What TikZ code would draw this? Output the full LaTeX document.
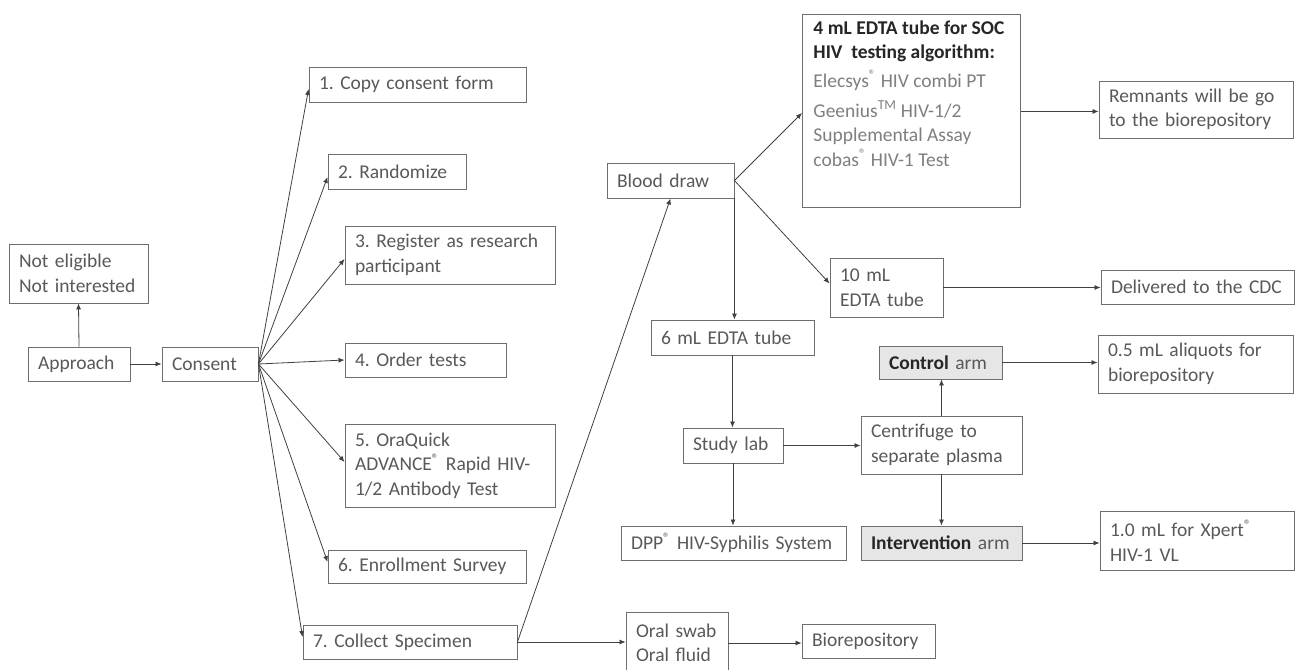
\documentclass[tikz,border=0pt]{standalone}
\usepackage{fontspec}
\setmainfont{Carlito}
\usetikzlibrary{arrows.meta}
\definecolor{txt}{HTML}{595959}
\definecolor{ltx}{HTML}{7F7F7F}
\definecolor{dk}{HTML}{262626}
\definecolor{brd}{HTML}{6E6E6E}
\definecolor{arr}{HTML}{404040}
\definecolor{armfill}{HTML}{E6E6E6}
\newcommand\mybox[7][]{%
  \pgfmathsetlengthmacro\bxw{(#5-#3)*1pt}%
  \pgfmathsetlengthmacro\bxh{(#6-#4)*1pt}%
  \pgfmathsetlengthmacro\bxt{(#5-#3-20)*1pt}%
  \node[box,minimum width=\bxw,minimum height=\bxh,text width=\bxt,#1] (#2) at ({(#3+#5)/2},{(#4+#6)/2}) {#7};}
\tikzset{
  box/.style={draw=brd,line width=0.9pt,text=txt,font=\fontsize{19.5pt}{24.5pt}\selectfont\frenchspacing,
    inner xsep=10pt,inner ysep=0pt,align=left,fill=white},
  arm/.style={fill=armfill},
  conn/.style={draw=arr,line width=0.8pt,-{Latex[length=6pt,width=5pt]}}
}
\begin{document}
\frenchspacing
\begin{tikzpicture}[x=1pt,y=-1pt]
\useasboundingbox (0,0) rectangle (1295,669);
\clip (0,0) rectangle (1295,669);
% left part
\mybox{ne}{9}{244}{148}{303}{Not eligible\\Not interested}
\mybox{ap}{28}{347}{130}{381}{Approach}
\mybox{co}{162}{347}{258}{381}{Consent}
\mybox{c1}{309}{67}{526}{102}{1. Copy consent form}
\mybox{c2}{328}{154}{466}{189}{2. Randomize}
\mybox{c3}{345}{226}{555}{284}{\mbox{3. Register as research}\\participant}
\mybox{c4}{345}{343}{506}{377}{4. Order tests}
\mybox{c5}{345}{424}{555}{507}{5. OraQuick\\\mbox{ADVANCE\textsuperscript{®} Rapid HIV-}\\1/2 Antibody Test}
\mybox{c6}{328}{550}{526}{583}{6. Enrollment Survey}
\mybox{c7}{303}{625}{517}{659}{7. Collect Specimen}
% middle / right part
\mybox{bd}{607}{163}{734}{198}{Blood draw}
\node[box,anchor=north west,inner xsep=11pt,inner ysep=6pt] (soc) at (802,14)
  {\parbox[t][181pt][t]{196pt}{%
   {\bfseries\color{dk}\mbox{4 mL EDTA tube for SOC}\\\mbox{HIV\ \ testing algorithm:}}\\[4pt]
   {\color{ltx}\mbox{Elecsys\textsuperscript{®} HIV combi PT}\\[5.5pt]
   \mbox{Geenius\textsuperscript{TM} HIV-1/2}\\Supplemental Assay\\\mbox{cobas\textsuperscript{®} HIV-1 Test}}}};
\mybox{rem}{1099}{81}{1293}{138}{\mbox{Remnants will be go}\\\mbox{to the biorepository}}
\mybox{ten}{830}{258}{943}{317}{10 mL\\EDTA tube}
\mybox{cdc}{1101}{270}{1294}{304}{\mbox{Delivered to the CDC}}
\mybox{six}{651}{320}{814}{355}{6 mL EDTA tube}
\mybox[arm]{ctl}{879}{346}{1002}{379}{{\bfseries\color{dk}Control} arm}
\mybox{ali}{1098}{335}{1293}{393}{0.5 mL aliquots for\\biorepository}
\mybox{lab}{683}{428}{783}{463}{Study lab}
\mybox{cen}{861}{416}{1022}{474}{Centrifuge to\\separate plasma}
\mybox{dpp}{621}{526}{846}{560}{\mbox{DPP\textsuperscript{®} HIV-Syphilis System}}
\mybox[arm]{int}{861}{526}{1022}{560}{\mbox{{\bfseries\color{dk}Intervention} arm}}
\mybox{xp}{1100}{511}{1294}{570}{1.0 mL for Xpert\textsuperscript{®}\\HIV-1 VL}
\mybox{os}{626}{612}{728}{674}{Oral swab\\Oral fluid}
\mybox{bio}{802}{624}{935}{658}{Biorepository}
% connectors
\draw[conn] (ap.north) -- (ne.south);
\draw[conn] (ap.east) -- (co.west);
\draw[conn] (co.east) -- ([yshift=-4.5pt]c1.west);
\draw[conn] (co.east) -- ([yshift=-5.5pt]c2.west);
\draw[conn] (co.east) -- ([yshift=-4pt]c3.west);
\draw[conn] (co.east) -- (c4.west);
\draw[conn] (co.east) -- ([yshift=3.5pt]c5.west);
\draw[conn] (co.east) -- ([yshift=4.5pt]c6.west);
\draw[conn] (co.east) -- ([yshift=5pt]c7.west);
\draw[conn] (c7.east) -- (bd.south);
\draw[conn] (c7.east) -- (c7.east -| os.west);
\draw[conn] (os.east) -- (os.east -| bio.west);
\draw[conn] (bd.east) -- ([yshift=-2pt]soc.west);
\draw[conn] ([yshift=-0.5pt]soc.east) -- ([yshift=-0.5pt]soc.east -| rem.west);
\draw[conn] (bd.east) -- ([yshift=4pt]ten.west);
\draw[conn] (bd.south east) -- (bd.south east |- six.north);
\draw[conn] (ten.east) -- (ten.east -| cdc.west);
\draw[conn] (six.south) -- (six.south |- lab.north);
\draw[conn] (lab.south) -- (lab.south |- dpp.north);
\draw[conn] (lab.east) -- (lab.east -| cen.west);
\draw[conn] (cen.north) -- (cen.north |- ctl.south);
\draw[conn] (cen.south) -- (cen.south |- int.north);
\draw[conn] (ctl.east) -- (ctl.east -| ali.west);
\draw[conn] (int.east) -- (int.east -| xp.west);
\end{tikzpicture}
\end{document}
